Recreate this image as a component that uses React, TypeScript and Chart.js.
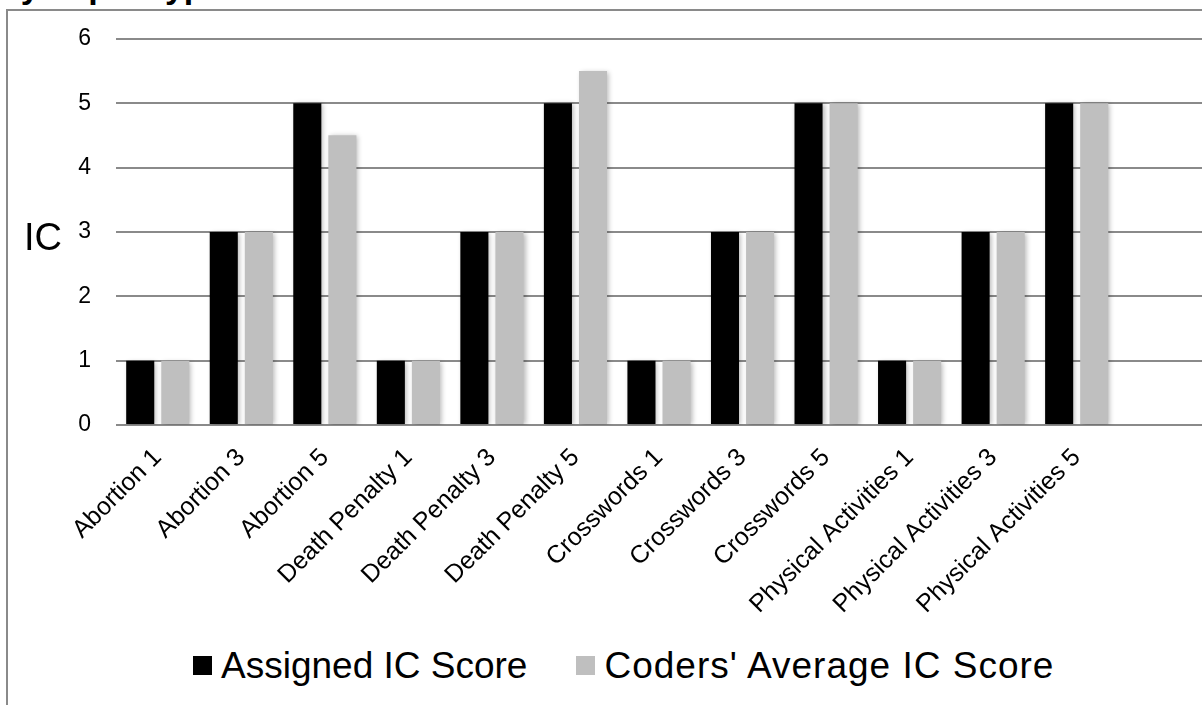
import React, { useEffect, useRef } from "react";
import { Chart, registerables } from "chart.js";

Chart.register(...registerables);

const categories = [
  "Abortion 1",
  "Abortion 3",
  "Abortion 5",
  "Death Penalty 1",
  "Death Penalty 3",
  "Death Penalty 5",
  "Crosswords 1",
  "Crosswords 3",
  "Crosswords 5",
  "Physical Activities 1",
  "Physical Activities 3",
  "Physical Activities 5",
];
const assignedScores = [1, 3, 5, 1, 3, 5, 1, 3, 5, 1, 3, 5];
const codersAverage = [1, 3, 4.5, 1, 3, 5.5, 1, 3, 5, 1, 3, 5];
const seriesNames = ["Assigned IC Score", "Coders' Average IC Score"];
const seriesColors = ["#000000", "#bfbfbf"];
const yMin = 0;
const yMax = 6;
const yStep = 1;
const titleText = "by Topic Type";
const yTitle = "IC";

const FONT = "'Liberation Sans', Arial, sans-serif";

const shadowPlugin = {
  id: "barShadow",
  beforeDatasetsDraw(chart: any) {
    const ctx = chart.ctx;
    ctx.save();
    ctx.shadowColor = "rgba(0,0,0,0.28)";
    ctx.shadowBlur = 5;
    ctx.shadowOffsetX = 2;
    ctx.shadowOffsetY = 1;
  },
  afterDatasetsDraw(chart: any) {
    chart.ctx.restore();
  },
};

export default function App() {
  const ref = useRef<HTMLCanvasElement | null>(null);

  useEffect(() => {
    if (!ref.current) return;
    // one extra empty slot: the reference plot area continues past the last group
    const labels = [...categories, ""];
    const chart = new Chart(ref.current, {
      type: "bar",
      data: {
        labels,
        datasets: [
          {
            label: seriesNames[0],
            data: assignedScores,
            backgroundColor: seriesColors[0],
            borderWidth: 0,
            categoryPercentage: 0.84,
            barPercentage: 0.8,
          },
          {
            label: seriesNames[1],
            data: codersAverage,
            backgroundColor: seriesColors[1],
            borderWidth: 0,
            categoryPercentage: 0.84,
            barPercentage: 0.8,
          },
        ],
      },
      options: {
        responsive: false,
        animation: false,
        devicePixelRatio: 1,
        layout: { padding: { top: 36, left: 0, right: 0, bottom: 0 } },
        plugins: {
          legend: { display: false },
          tooltip: { enabled: false },
          title: { display: false },
        },
        scales: {
          x: {
            grid: { display: false },
            border: { display: false },
            ticks: {
              autoSkip: false,
              maxRotation: 45,
              minRotation: 45,
              color: "#000",
              padding: 10,
              font: { family: FONT, size: 25 },
            },
            afterFit(scale: any) {
              scale.height = 215;
            },
          },
          y: {
            min: yMin,
            max: yMax,
            grid: { color: "#8a8a8a", lineWidth: 2, drawTicks: false },
            border: { display: false },
            ticks: {
              stepSize: yStep,
              color: "#000",
              padding: 25,
              font: { family: FONT, size: 23 },
            },
            afterFit(scale: any) {
              scale.width = 116;
            },
          },
        },
      },
      plugins: [shadowPlugin],
    });
    return () => chart.destroy();
  }, []);

  return (
    <div
      style={{
        position: "fixed",
        left: 0,
        top: 0,
        width: 1202,
        height: 705,
        overflow: "hidden",
        background: "#fff",
        fontFamily: FONT,
      }}
    >
      <div
        style={{
          position: "absolute",
          left: 0,
          top: -31,
          fontSize: 34,
          lineHeight: "34px",
          fontWeight: "bold",
          color: "#000",
          whiteSpace: "nowrap",
        }}
      >
        {titleText}
      </div>
      <div
        style={{
          position: "absolute",
          left: 6,
          top: 9,
          width: 1300,
          height: 800,
          borderLeft: "2px solid #8a8a8a",
          borderTop: "2px solid #8a8a8a",
        }}
      />
      <canvas
        ref={ref}
        width={1202}
        height={640}
        style={{ position: "absolute", left: 0, top: 0 }}
      />
      <div
        style={{
          position: "absolute",
          left: 24,
          top: 218,
          fontSize: 38,
          lineHeight: "38px",
          color: "#000",
        }}
      >
        {yTitle}
      </div>
      <div
        style={{
          position: "absolute",
          left: 193,
          top: 647,
          height: 37,
          display: "flex",
          alignItems: "center",
          gap: 49,
          fontSize: 37,
          lineHeight: "37px",
          color: "#000",
          whiteSpace: "nowrap",
        }}
      >
        {seriesNames.map((name, i) => (
          <div key={name} style={{ display: "flex", alignItems: "center" }}>
            <span
              style={{
                display: "inline-block",
                width: 19,
                height: 19,
                background: seriesColors[i],
                marginRight: 9,
              }}
            />
            <span style={{ letterSpacing: i === 1 ? 1 : 0 }}>{name}</span>
          </div>
        ))}
      </div>
    </div>
  );
}
